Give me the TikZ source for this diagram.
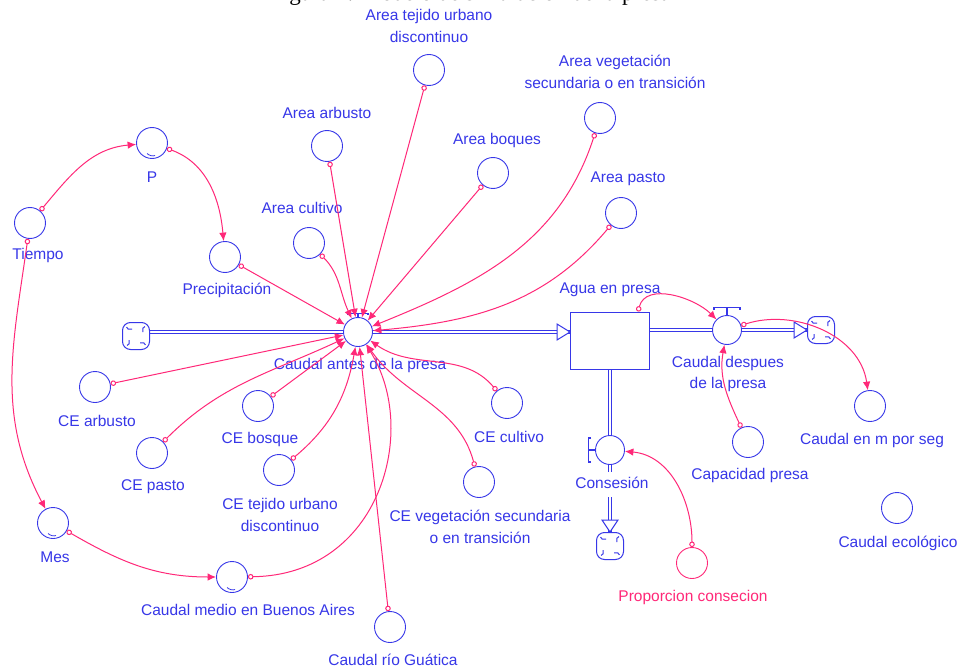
\documentclass[tikz,border=0pt]{standalone}
\usepackage{fontspec}
\usetikzlibrary{arrows.meta,backgrounds}
\newfontfamily\labf{Liberation Sans}
\newfontfamily\capf{Liberation Serif}
\definecolor{vblue}{RGB}{55,55,232}
\definecolor{vpink}{RGB}{255,40,120}
\newcommand\cldmk[1]{%
  \foreach \a in {0,90,180,270}{%
    \draw[vblue,line width=1pt] ([shift={(\a+30:8pt)}]#1.center) arc[start angle=\a+210, delta angle=-100, radius=3.8pt];}}
\begin{document}
\begin{tikzpicture}[x=1pt,y=-1pt,
  aux/.style={circle,draw=vblue,line width=0.9pt,minimum size=31pt,inner sep=0pt},
  gf/.style={path picture={\draw[vblue,line width=0.8pt] ([shift={(-5pt,5pt)}]path picture bounding box.south) .. controls +(2pt,-2pt) and +(-2pt,-1pt) .. ([shift={(3pt,3pt)}]path picture bounding box.south);}},
  valve/.style={circle,draw=vblue,line width=0.9pt,minimum size=29pt,inner sep=0pt,fill=white},
  lbl/.style={text=vblue,font=\labf\fontsize{15.5}{21.5}\selectfont,align=center,inner sep=0pt},
  link/.style={draw=vpink,line width=1pt,{Circle[open,length=5.5pt,width=5.5pt]}-{Latex[length=8.5pt,width=7.5pt]}},
  pipe/.style={draw=vblue,line width=1.1pt,double=white,double distance=2pt},
  cloud/.style={rectangle,rounded corners=8pt,draw=vblue,line width=1pt,minimum size=27pt,inner sep=0pt,fill=white},
  stockbox/.style={rectangle,draw=vblue,line width=1pt,minimum width=79pt,minimum height=57pt,fill=white},
  openhead/.style={draw=vblue,line width=1pt,fill=white,line join=miter},
  tbar/.style={draw=vblue,line width=1.1pt}
]
\useasboundingbox (0,0) rectangle (963,671);

% caption (cut at the top edge, as in the reference)
\node[anchor=base west,inner sep=0pt,font=\capf\fontsize{23}{26}\selectfont] (titulo) at (270,0.8) {Figura 4. Modelo de simulación de la presa};

% auxiliaries
\node[aux] (tiempo) at (30,223) {};
\node[aux,gf] (p) at (152,143) {};
\node[aux] (prec) at (225,257) {};
\node[aux] (acult) at (309,243) {};
\node[aux] (aarb) at (327,146) {};
\node[aux] (atej) at (429,70) {};
\node[aux] (abos) at (493,173) {};
\node[aux] (aveg) at (600,118) {};
\node[aux] (apas) at (621,213) {};
\node[aux] (cearb) at (95,387) {};
\node[aux] (cepas) at (152,453) {};
\node[aux] (cebos) at (258,406) {};
\node[aux] (cetej) at (279,470) {};
\node[aux] (cecul) at (507,403) {};
\node[aux] (ceveg) at (479,482) {};
\node[aux] (guat) at (390,627) {};
\node[aux,gf] (cmba) at (232,577) {};
\node[aux,gf] (mes) at (53,523) {};
\node[aux] (cms) at (870,406) {};
\node[aux] (capp) at (748,442) {};
\node[aux,draw=vpink] (prop) at (692,563) {};
\node[aux] (ceco) at (897,508) {};

% stock, valves, clouds
\node[stockbox] (stock) at (610,340.5) {};
\node[valve] (cadp) at (358,332) {};
\node[valve] (cdp) at (727,330) {};
\node[valve] (cons) at (610,450) {};
\node[cloud] (cloudL) at (136,336) {};
\node[cloud] (cloudR) at (821,330) {};
\node[cloud] (cloudB) at (610,546) {};
\cldmk{cloudL}
\cldmk{cloudR}
\cldmk{cloudB}

% labels
\node[lbl] (tiempoL) at (38,255) {Tiempo};
\node[lbl] (pL) at (152,177) {P};
\node[lbl] (precL) at (227,290) {Precipitación};
\node[lbl] (acultL) at (302,208) {Area cultivo};
\node[lbl] (aarbL) at (327,113) {Area arbusto};
\node[lbl] (atejL) at (429,26) {Area tejido urbano\\discontinuo};
\node[lbl] (abosL) at (497,140) {Area boques};
\node[lbl] (avegL) at (615,72) {Area vegetación\\secundaria o en transición};
\node[lbl] (apasL) at (628,179) {Area pasto};
\node[lbl] (stockL) at (610,290) {Agua en presa};
\node[lbl] (cadpL) at (360,365) {Caudal antes de la presa};
\node[lbl] (cdpL) at (728,374) {Caudal despues\\de la presa};
\node[lbl] (cmsL) at (872,440) {Caudal en m por seg};
\node[lbl] (cappL) at (750,475) {Capacidad presa};
\node[lbl] (consL) at (612,483) {Consesión};
\node[lbl,text=vpink] (propL) at (693,597) {Proporcion consecion};
\node[lbl] (cecoL) at (898,543) {Caudal ecológico};
\node[lbl] (cearbL) at (97,421) {CE arbusto};
\node[lbl] (cepasL) at (153,487) {CE pasto};
\node[lbl] (cebosL) at (260,439) {CE bosque};
\node[lbl] (cetejL) at (280,515) {CE tejido urbano\\discontinuo};
\node[lbl] (ceculL) at (509,437) {CE cultivo};
\node[lbl] (cevegL) at (480,527) {CE vegetación secundaria\\o en transición};
\node[lbl] (guatL) at (393,660) {Caudal río Guática};
\node[lbl] (cmbaL) at (248,610) {Caudal medio en Buenos Aires};
\node[lbl] (mesL) at (55,557) {Mes};

% pipes (behind)
\begin{pgfonlayer}{background}
\fill[white] (0,0) rectangle (963,671);
\draw[pipe] (cloudL.east |- cadp.center) -- (stock.west |- cadp.center);
\draw[pipe] (stock.east |- cdp.center) -- (cloudR.west);
\draw[pipe] (stock.south) -- (cons.north);
\draw[pipe] (cons.south) -- ++(0,7);
\coordinate (pipeB) at (610,497);
\draw[pipe] (pipeB) -- (cloudB.north);
\end{pgfonlayer}

% open arrowheads of the pipes
\draw[openhead] (stock.west |- cadp.center) -- ++(-13,-8) -- ++(0,16) -- cycle;
\draw[openhead] (cloudR.west) -- ++(-13,-8) -- ++(0,16) -- cycle;
\draw[openhead] (cloudB.north) -- ++(-8,-12) -- ++(16,0) -- cycle;

% valve handles
\draw[tbar] (cadp.north) -- ++(0,-4);
\draw[tbar] ([shift={(-10pt,2pt)}]cadp.north) -- ([shift={(-10pt,4pt)}]cadp.north) -- ([shift={(10pt,4pt)}]cadp.north) -- ([shift={(10pt,2pt)}]cadp.north);
\draw[tbar] (cdp.north) -- ++(0,-8);
\draw[tbar] ([shift={(-13pt,5pt)}]cdp.north) -- ([shift={(-13pt,8pt)}]cdp.north) -- ([shift={(13pt,8pt)}]cdp.north) -- ([shift={(13pt,5pt)}]cdp.north);
\draw[tbar] (cons.west) -- ++(-7,0);
\draw[tbar] ([shift={(-4pt,12pt)}]cons.west) -- ([shift={(-7pt,12pt)}]cons.west) -- ([shift={(-7pt,-12pt)}]cons.west) -- ([shift={(-4pt,-12pt)}]cons.west);

% links
\draw[link] (tiempo) to[out=50,in=185] (p);
\draw[link] (p) to[out=-20,in=95] (prec);
\draw[link] (tiempo) to[out=262,in=118] (mes);
\draw[link] (mes) to[out=-30,in=180] (cmba);
\draw[link] (cmba) .. controls (380,575) and (420,430) .. (cadp);
\draw[link] (guat) -- (cadp);
\draw[link] (prec) -- (cadp);
\draw[link] (acult) to[out=-45,in=115] (cadp);
\draw[link] (aarb) -- (cadp);
\draw[link] (atej) -- (cadp);
\draw[link] (abos) -- (cadp);
\draw[link] (aveg) to[out=-108,in=22] (cadp);
\draw[link] (apas) to[out=-130,in=5] (cadp);
\draw[link] (cearb) -- (cadp);
\draw[link] (cepas) to[out=45,in=-155] (cadp);
\draw[link] (cebos) -- (cadp);
\draw[link] (cetej) to[out=40,in=-100] (cadp);
\draw[link] (cecul) to[out=130,in=-35] (cadp);
\draw[link] (ceveg) to[out=105,in=-55] (cadp);
\coordinate (agT) at ([xshift=-12pt]stock.north east);
\draw[link] (agT) to[out=75,in=135] (cdp);
\draw[link] (cdp) to[out=18,in=98] (cms);
\draw[link] (capp) to[out=115,in=-100] (cdp);
\draw[link] (prop) to[out=90,in=-5] (cons);
\end{tikzpicture}
\end{document}
